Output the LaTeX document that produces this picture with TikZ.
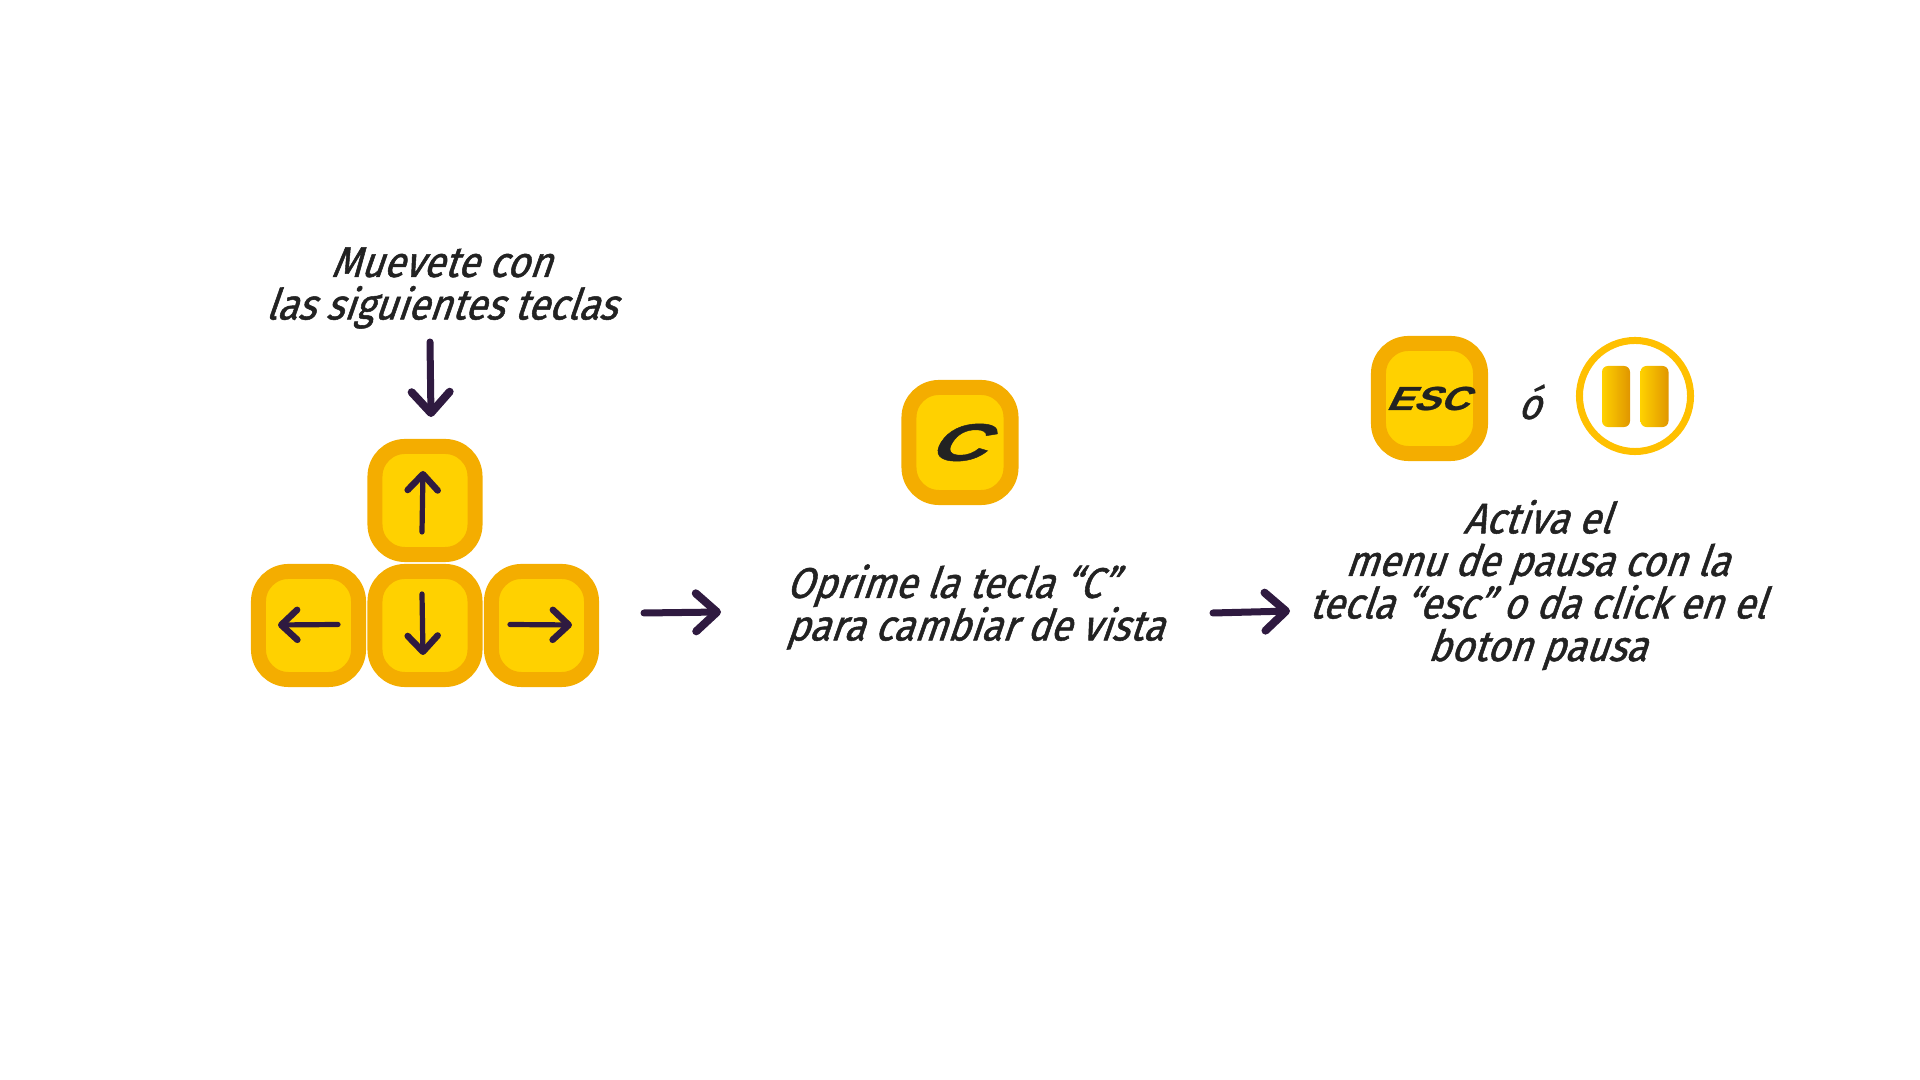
\documentclass[tikz,border=0pt]{standalone}
\usepackage{fontspec}
\usepackage{xcolor}
\usepackage{tikz}
\usetikzlibrary{arrows.meta,positioning}
\setmainfont{Fira Sans}
\newfontfamily\capfont[FakeSlant=0.35,FakeStretch=0.9,FakeBold=1.2]{Fira Sans}
\newfontfamily\keyfont[FakeSlant=0.5,FakeStretch=1.2,FakeBold=0.8]{Liberation Sans Bold}
\setlength{\lineskiplimit}{-3pt}
\definecolor{kpRim}{HTML}{F4AD00}
\definecolor{kpFace}{HTML}{FFD100}
\definecolor{kpInk}{HTML}{2F1A40}
\definecolor{kpText}{HTML}{222222}
\definecolor{kpRing}{HTML}{FFC000}
\definecolor{kpDark}{HTML}{E09600}

\begin{document}
\begin{tikzpicture}[x=0.01cm,y=-0.01cm,
  keycap/.style={draw=kpRim,fill=kpFace,line width=1.5mm,rounded corners=3mm,
                 minimum width=1cm,minimum height=1.08cm,inner sep=0pt},
  bigcap/.style={keycap,minimum width=1.02cm,minimum height=1.1cm,text=kpText},
  txt/.style={font=\capfont\fontsize{12.2}{12.1}\selectfont,text=kpText,align=center,inner sep=0pt},
  a/.style={-{Straight Barb[length=2.1mm,width=3.8mm,round,line width=0.8mm]},kpInk,line width=0.7mm,line cap=round},
  b/.style={-{Straight Barb[length=1.6mm,width=3mm,round,line width=0.65mm]},kpInk,line width=0.52mm,line cap=round},
  pausebar/.style={shading=axis,left color=kpFace,middle color=kpFace,right color=kpDark,
                   rounded corners=0.6mm,minimum width=2.8mm,minimum height=6.1mm,inner sep=0pt}]
\useasboundingbox (0,0) rectangle (1920,1080);
% movement keys
\node[txt] (move) at (441,288) {Muevete con\\las siguientes teclas};
\coordinate (inA) at (430,342);
\coordinate (inB) at (431,417);
\draw[a] (inA) -- (inB);
\node[keycap] (up) at (425,500.5) {};
\node[keycap] (left) at (308.5,625.5) {};
\node[keycap] (down) at (425,625.5) {};
\node[keycap] (right) at (541.5,625.5) {};
\coordinate (upA) at (422,532);
\coordinate (upB) at (423,471);
\draw[b] (upA) -- (upB);
\coordinate (downA) at (422,594);
\coordinate (downB) at (423,655);
\draw[b] (downA) -- (downB);
\coordinate (leftA) at (338,624.5);
\coordinate (leftB) at (278,625);
\draw[b] (leftA) -- (leftB);
\coordinate (rightA) at (510,624.5);
\coordinate (rightB) at (572,625);
\draw[b] (rightA) -- (rightB);
\coordinate (firstA) at (644,613);
\coordinate (firstB) at (721,612);
\draw[a] (firstA) -- (firstB);
% camera key
\node[bigcap,font=\keyfont\fontsize{15}{15}\selectfont] (ckey) at (960,442.5) {\hspace*{-1mm}\scalebox{1.25}[1]{C}};
\node[txt,align=left] (view) at (975,607) {Oprime la tecla “C”\\para cambiar de vista};
\coordinate (secondA) at (1213,613);
\coordinate (secondB) at (1290,611);
\draw[a] (secondA) -- (secondB);
% pause keys
\node[bigcap,font=\keyfont\fontsize{9.5}{9.5}\selectfont] (esc) at (1429.5,398.5) {\hspace*{-0.5mm}ESC};
\node[txt] (ortext) at (1529,402) {ó};
\node[circle,draw=kpRing,line width=0.7mm,minimum size=1.11cm,inner sep=0pt] (pause) at (1635,396) {};
\node[pausebar] (barL) at (1616,396.5) {};
\node[pausebar] (barR) at (1654.5,396.5) {};
\node[txt] (menu) at (1537,585) {Activa el\\menu de pausa con la\\tecla “esc” o da click en el\\boton pausa};
\end{tikzpicture}
\end{document}
